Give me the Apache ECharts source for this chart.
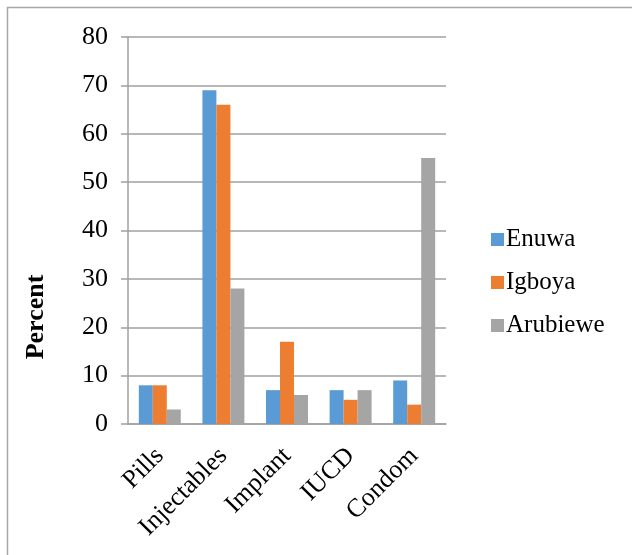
<!DOCTYPE html>
<html>
<head>
<meta charset="utf-8">
<script src="https://cdn.jsdelivr.net/npm/echarts@6/dist/echarts.min.js"></script>
<style>
  html, body { margin: 0; padding: 0; background: #fff; }
  #chart { width: 632px; height: 555px; }
</style>
</head>
<body>
<div id="chart"></div>
<script>
// Contraceptive method use by community
const categories = ['Pills', 'Injectables', 'Implant', 'IUCD', 'Condom'];
const enuwa = [8, 69, 7, 7, 9];
const igboya = [8, 66, 17, 5, 4];
const arubiewe = [3, 28, 6, 7, 55];
const seriesNames = ['Enuwa', 'Igboya', 'Arubiewe'];
const seriesColors = ['#5B9BD5', '#ED7D31', '#A5A5A5'];
const yTicks = { min: 0, max: 80, interval: 10 };
const yTitle = 'Percent';

const serif = '"Liberation Serif", "Times New Roman", serif';
const gridColor = '#a0a0a0';

const chart = echarts.init(document.getElementById('chart'), null, { renderer: 'canvas' });

const values = [enuwa, igboya, arubiewe];

chart.setOption({
  animation: false,
  backgroundColor: '#fff',
  textStyle: { fontFamily: serif },
  grid: { left: 128, right: 186, top: 37, bottom: 131, containLabel: false },
  legend: {
    orient: 'vertical',
    left: 486,
    top: 222,
    itemWidth: 13,
    itemHeight: 13,
    itemGap: 18,
    icon: 'rect',
    textStyle: { fontFamily: serif, fontSize: 25, color: '#000', padding: [0, 0, 0, -3] },
    data: seriesNames
  },
  xAxis: {
    type: 'category',
    data: categories,
    axisLine: { show: true, lineStyle: { color: gridColor, width: 1.5 } },
    axisTick: { show: false },
    axisLabel: {
      rotate: 45,
      margin: 28,
      fontFamily: serif,
      fontSize: 26,
      color: '#000',
      interval: 0
    }
  },
  yAxis: {
    type: 'value',
    min: yTicks.min,
    max: yTicks.max,
    interval: yTicks.interval,
    axisLine: { show: true, lineStyle: { color: gridColor, width: 1.5 } },
    axisTick: { show: true, length: 7, lineStyle: { color: gridColor, width: 1.5 } },
    axisLabel: { margin: 20, fontFamily: serif, fontSize: 26, color: '#000' },
    splitLine: { show: true, lineStyle: { color: gridColor, width: 1.5 } }
  },
  series: seriesNames.map((name, i) => ({
    name,
    type: 'bar',
    data: values[i],
    barGap: '0%',
    barCategoryGap: '34%',
    itemStyle: { color: seriesColors[i] }
  })),
  graphic: [
    {
      type: 'polyline',
      silent: true,
      shape: { points: [[7.5, 555], [7.5, 7.5], [632, 7.5]] },
      style: { stroke: '#a6a6a6', lineWidth: 1.5, fill: null }
    },
    {
      type: 'text',
      silent: true,
      x: 36,
      y: 317,
      rotation: Math.PI / 2,
      style: {
        text: yTitle,
        font: 'bold 26px ' + serif,
        fill: '#000',
        align: 'center',
        verticalAlign: 'middle'
      }
    }
  ]
});
</script>
</body>
</html>
